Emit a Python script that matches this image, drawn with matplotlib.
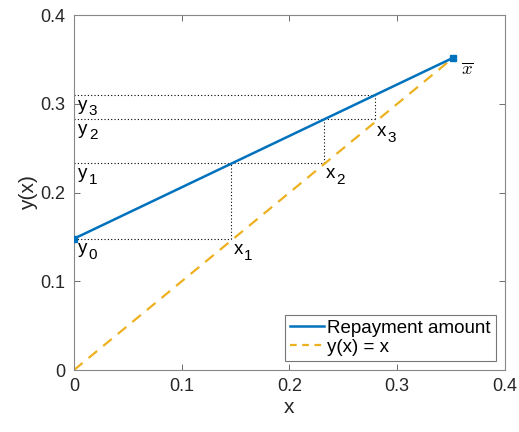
import matplotlib
matplotlib.use("Agg")
import matplotlib.pyplot as plt
from matplotlib.lines import Line2D

# Data
line_x = [0.0, 0.352]          # repayment amount line endpoints (x)
line_y = [0.148, 0.352]        # repayment amount line endpoints (y)
diag_x = [0.0, 0.352]          # y(x) = x
diag_y = [0.0, 0.352]
y_vals = [0.148, 0.233, 0.283, 0.310]   # y0..y3
x_vals = [0.146, 0.232, 0.279]          # x1..x3
x_bar = 0.352

plt.rcParams['font.family'] = ['Liberation Sans', 'DejaVu Sans']
fig = plt.figure(figsize=(5.19, 4.32), dpi=100)
ax = fig.add_axes([0.1426, 0.1435, 0.8304, 0.8215])

blue = '#0072BD'
yellow = '#EDB120'
gray = '#262626'

# dotted helper lines
for i, yv in enumerate(y_vals):
    xe = x_vals[min(i, len(x_vals) - 1)]
    ax.plot([0, xe], [yv, yv], color='k', linestyle=(0, (1, 2)), linewidth=0.8)
for i, xv in enumerate(x_vals):
    ax.plot([xv, xv], [y_vals[i], y_vals[i + 1]], color='k', linestyle=(0, (1, 2)), linewidth=0.8)

ax.plot(line_x, line_y, color=blue, linewidth=1.8, marker='s', markersize=4,
        zorder=3)
ax.plot(diag_x, diag_y, color=yellow, linewidth=1.6, linestyle=(0, (5, 3.5)),
        zorder=2)

fs = 13.5
sfs = 11


def sublabel(x, y, main, sub):
    ax.annotate(main, (x, y), xytext=(0, 0), textcoords='offset points',
                fontsize=fs, va='top', ha='left', color='k')
    ax.annotate(sub, (x, y), xytext=(7.6, -5.5), textcoords='offset points',
                fontsize=sfs, va='top', ha='left', color='k')


for i, yv in enumerate(y_vals):
    sublabel(0.004, yv - 0.002, 'y', str(i))
for i, xv in enumerate(x_vals):
    sublabel(xv + 0.002, xv - 0.001, 'x', str(i + 1))
ax.text(x_bar + 0.007, x_bar - 0.004, r'$\overline{x}$', fontsize=fs, va='top',
        ha='left', math_fontfamily='cm', color='k')

ax.set_xlim(0, 0.4)
ax.set_ylim(0, 0.4)
ticks = [0, 0.1, 0.2, 0.3, 0.4]
tick_labels = ['0', '0.1', '0.2', '0.3', '0.4']
ax.set_xticks(ticks)
ax.set_xticklabels(tick_labels)
ax.set_yticks(ticks)
ax.set_yticklabels(tick_labels)
ax.tick_params(direction='in', top=True, right=True, labelsize=13,
               colors=gray, length=4, width=0.6, color='#555555')
ax.tick_params(axis='both', pad=6)
for s in ax.spines.values():
    s.set_color('#888888')
    s.set_linewidth(0.8)
ax.set_xlabel('x', fontsize=15, color=gray, labelpad=2)
ax.set_ylabel('y(x)', fontsize=15, color=gray, labelpad=2)

handles = [Line2D([], [], color=blue, linewidth=1.8),
           Line2D([], [], color=yellow, linewidth=1.6, linestyle=(0, (3, 2.5)))]
leg = ax.legend(handles, ['Repayment amount', 'y(x) = x'], loc='lower right',
                fontsize=13.5, frameon=True, fancybox=False,
                edgecolor='#555555', borderpad=0.25, handlelength=1.8,
                handletextpad=0.2, labelspacing=0.1, borderaxespad=0.5)
leg.get_frame().set_linewidth(0.8)

fig.savefig('out.png', dpi=100)
